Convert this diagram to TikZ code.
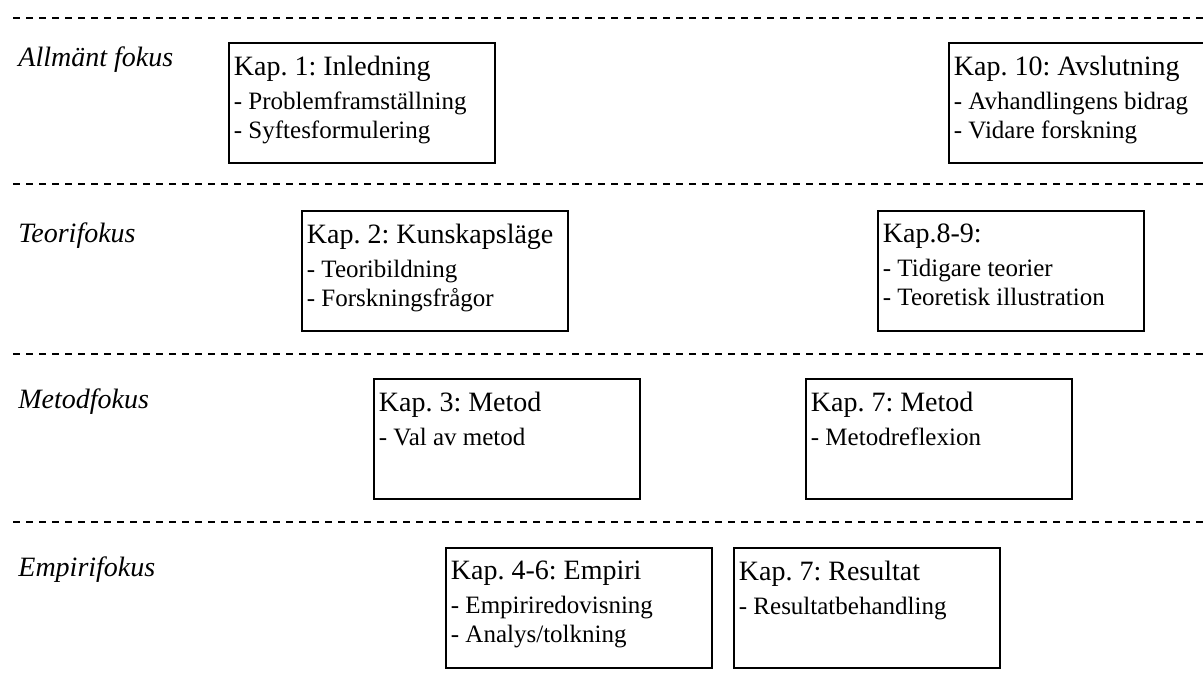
\documentclass[tikz,border=0pt]{standalone}
\usepackage{fontspec}
\setmainfont{Liberation Serif}
\usepackage{tikz}
\frenchspacing

\newcommand{\kapbox}[2]{\parbox[t][47pt][t]{128pt}{{\fontsize{14}{16}\selectfont #1\par}\vspace{2.5pt}#2}}

\begin{document}
\begin{tikzpicture}[x=0.5pt, y=-0.5pt,
fokus/.style={anchor=base west, inner sep=0pt, font=\fontsize{14}{16}\selectfont\itshape},
kap/.style={draw, line width=0.9pt, anchor=north west, inner xsep=2.5pt, inner ysep=6.5pt,
    font=\fontsize{12.5}{14.5}\selectfont},
skiljelinje/.style={line width=0.75pt, dash pattern=on 3.5pt off 3pt}
]
\useasboundingbox (0,0) rectangle (1203,687);

\foreach \y in {18,184,354,522}
    \draw [skiljelinje] (13,\y) -- (1203,\y);

\foreach \n/\y/\t in {allm/66/Allmänt fokus, teori/242/Teorifokus,
                      metod/408/Metodfokus, empiri/576/Empirifokus}
    \node [fokus] (\n) at (18,\y) {\t};

% allmänt fokus
\node [kap] (k1) at (228,42) {\kapbox{Kap. 1: Inledning}{- Problemframställning\\- Syftesformulering}};
\node [kap] (k10) at (948,42) {\kapbox{Kap. 10: Avslutning}{- Avhandlingens bidrag\\- Vidare forskning}};
% teorifokus
\node [kap] (k2) at (301,210) {\kapbox{Kap. 2: Kunskapsläge}{- Teoribildning\\- Forskningsfrågor}};
\node [kap] (k89) at (877,210) {\kapbox{Kap.8-9:}{- Tidigare teorier\\- Teoretisk illustration}};
% metodfokus
\node [kap] (k3) at (373,378) {\kapbox{Kap. 3: Metod}{- Val av metod}};
\node [kap] (k7m) at (805,378) {\kapbox{Kap. 7: Metod}{- Metodreflexion}};
% empirifokus
\node [kap] (k46) at (445,547) {\kapbox{Kap. 4-6: Empiri}{- Empiriredovisning\\- Analys/tolkning}};
\node [kap] (k7r) at (733,547) {\kapbox{Kap. 7: Resultat}{- Resultatbehandling}};
\end{tikzpicture}
\end{document}
